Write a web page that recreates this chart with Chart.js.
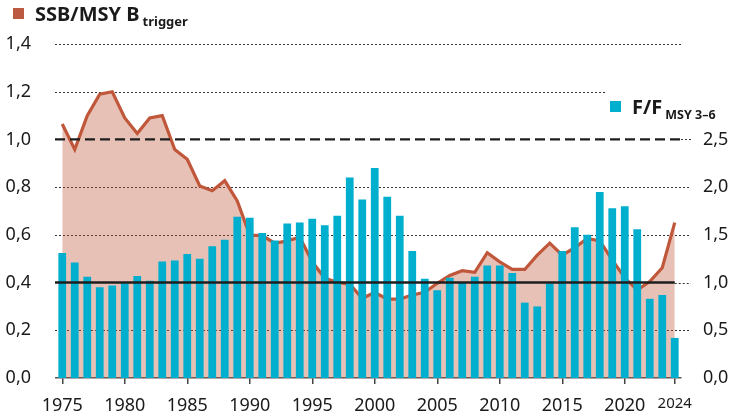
<!DOCTYPE html>
<html>
<head>
<meta charset="utf-8">
<script src="https://cdn.jsdelivr.net/npm/chart.js@4.4.1/dist/chart.umd.min.js"></script>
<style>
  body { margin: 0; background: #fff; }
  #wrap { position: relative; width: 732px; height: 417px; font-family: "Noto Sans", sans-serif; color: #1a1a1a; }
  .leg { position: absolute; font-weight: bold; font-size: 20px; white-space: nowrap; line-height: 1; }
  .leg .sq { display: inline-block; width: 11px; height: 11px; margin-right: 11px; vertical-align: 2px; }
  .leg .sub { font-size: 13px; position: relative; top: 5px; margin-left: 3px; }
</style>
</head>
<body>
<div id="wrap">
  <canvas id="chart" width="732" height="417"></canvas>
  <div class="leg" style="left:13px; top:4px;"><span class="sq" style="background:#bb5a40"></span>SSB/MSY B<span class="sub">trigger</span></div>
  <div class="leg" style="left:610px; top:97px;"><span class="sq" style="background:#00aecd"></span>F/F<span class="sub" style="font-size:12.5px">MSY 3–6</span></div>
</div>
<script>
// years on the x axis
const years = [];
for (let y = 1975; y <= 2024; y++) years.push(y);

// SSB / MSY Btrigger (left axis)
const ssbRatio = [
  1.065, 0.958, 1.10, 1.19, 1.20, 1.09, 1.025, 1.09, 1.10, 0.958,
  0.917, 0.805, 0.785, 0.827, 0.742, 0.599, 0.597, 0.565, 0.575, 0.59,
  0.487, 0.418, 0.401, 0.393, 0.334, 0.358, 0.331, 0.331, 0.348, 0.359,
  0.397, 0.43, 0.45, 0.443, 0.525, 0.487, 0.455, 0.455, 0.515, 0.565,
  0.515, 0.546, 0.585, 0.575, 0.495, 0.42, 0.369, 0.404, 0.462, 0.651
];

// F / FMSY 3-6 (right axis)
const fRatio = [
  1.31, 1.21, 1.06, 0.95, 0.97, 0.99, 1.07, 1.02, 1.22, 1.23,
  1.30, 1.25, 1.38, 1.45, 1.69, 1.68, 1.52, 1.44, 1.62, 1.63,
  1.67, 1.60, 1.70, 2.10, 1.87, 2.20, 1.90, 1.70, 1.33, 1.04,
  0.92, 1.05, 1.00, 1.06, 1.18, 1.18, 1.10, 0.79, 0.75, 0.99,
  1.33, 1.58, 1.50, 1.95, 1.78, 1.80, 1.56, 0.83, 0.87, 0.42
];

// reference levels on the left axis
const dashedLevel = 1.0;
const solidLevel = 0.4;

function showYear(i) {
  const y = years[i];
  return y % 5 === 0 || y === 2024;
}

function fmt(v) {
  return v.toFixed(1).replace(".", ",");
}

function near(a, b) {
  return Math.abs(a - b) < 1e-6;
}

// dotted grid under the data, black reference lines on top
const refLines = {
  id: "refLines",
  beforeDatasetsDraw(chart) {
    const { ctx, chartArea } = chart;
    const ys = chart.scales.y;
    const xs = chart.scales.x;
    ctx.save();
    ctx.strokeStyle = "#333";
    ctx.lineWidth = 1;
    ctx.setLineDash([2, 2]);
    ys.ticks.forEach(t => {
      if (t.value < 0.01) return;
      const py = Math.round(ys.getPixelForValue(t.value)) + 0.5;
      let left = chartArea.left - 1;
      let right = chartArea.right + 10;
      if (near(t.value, 1.2)) right = 605;
      if (near(t.value, 1.4)) right = chartArea.right;
      if (near(t.value, dashedLevel)) left = chartArea.right;
      if (near(t.value, solidLevel)) left = xs.getPixelForValue(years.length - 1);
      ctx.beginPath();
      ctx.moveTo(left, py);
      ctx.lineTo(right, py);
      ctx.stroke();
    });
    ctx.restore();
  },
  afterDatasetsDraw(chart) {
    const { ctx, chartArea } = chart;
    const ys = chart.scales.y;
    const xs = chart.scales.x;
    ctx.save();
    ctx.strokeStyle = "#1e1e1e";
    ctx.lineWidth = 2.2;
    ctx.setLineDash([10, 5]);
    let py = ys.getPixelForValue(dashedLevel);
    ctx.beginPath();
    ctx.moveTo(chartArea.left - 1, py);
    ctx.lineTo(chartArea.right, py);
    ctx.stroke();
    ctx.setLineDash([]);
    ctx.lineWidth = 2.5;
    py = ys.getPixelForValue(solidLevel);
    ctx.beginPath();
    ctx.moveTo(chartArea.left - 1, py);
    ctx.lineTo(xs.getPixelForValue(years.length - 1), py);
    ctx.stroke();
    ctx.restore();
  }
};

const ctx = document.getElementById("chart").getContext("2d");
new Chart(ctx, {
  type: "bar",
  data: {
    labels: years,
    datasets: [
      {
        type: "bar",
        label: "F/FMSY 3-6",
        data: fRatio,
        yAxisID: "y1",
        backgroundColor: "#00aecd",
        barPercentage: 0.62,
        categoryPercentage: 1,
        order: 1
      },
      {
        type: "line",
        label: "SSB/MSY Btrigger",
        data: ssbRatio,
        yAxisID: "y",
        borderColor: "#c0573a",
        borderWidth: 3.2,
        backgroundColor: "rgba(192, 87, 58, 0.37)",
        fill: "origin",
        pointRadius: 0,
        tension: 0,
        order: 2
      }
    ]
  },
  options: {
    responsive: false,
    animation: false,
    devicePixelRatio: 1,
    layout: { padding: { top: 44 } },
    plugins: { legend: { display: false }, tooltip: { enabled: false } },
    scales: {
      x: {
        grid: {
          offset: false,
          drawOnChartArea: false,
          tickLength: 6,
          lineWidth: 1.5,
          color: c => (showYear(c.index) ? "#444" : "rgba(0,0,0,0)")
        },
        border: { color: "#555", width: 1.5 },
        ticks: {
          autoSkip: false,
          maxRotation: 0,
          padding: 11,
          color: "#1a1a1a",
          callback: (v, i) => (showYear(i) ? String(years[i]) : ""),
          font: c => ({ family: "Noto Sans", size: c.index === years.length - 1 ? 15 : 18 })
        },
        afterFit(s) { s.height = 39; }
      },
      y: {
        position: "left",
        min: 0,
        max: 1.4,
        ticks: {
          stepSize: 0.2,
          padding: 17,
          color: "#1a1a1a",
          font: { family: "Noto Sans", size: 18 },
          callback: v => fmt(v)
        },
        grid: { display: false },
        border: { display: false },
        afterFit(s) { s.width = 56; }
      },
      y1: {
        position: "right",
        min: 0,
        max: 3.5,
        ticks: {
          stepSize: 0.5,
          padding: 14,
          color: "#1a1a1a",
          font: { family: "Noto Sans", size: 18 },
          callback: v => (v <= 2.5 + 1e-6 ? fmt(v) : "")
        },
        grid: { display: false },
        border: { display: false },
        afterFit(s) { s.width = 51; }
      }
    }
  },
  plugins: [refLines]
});
</script>
</body>
</html>
